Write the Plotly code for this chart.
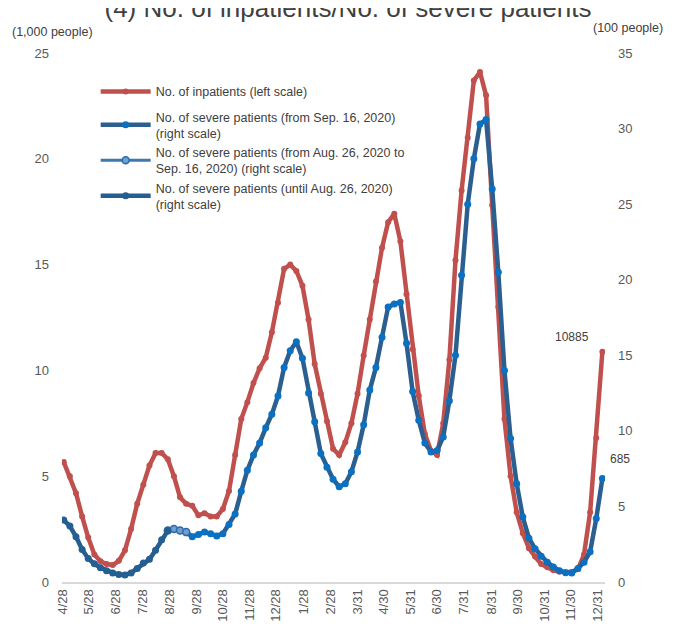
import pandas as pd
import plotly.graph_objects as go

# Weekly data points (Wednesdays), 2020-04-29 .. 2022-01-05
WEEK_START = "2020-04-29"
N_WEEKS = 89

# No. of inpatients, 1,000 people (left scale)
INPATIENTS = [
    5.67, 5.0, 4.2, 3.1, 2.1, 1.3, 0.98, 0.85, 0.8, 1.0,
    1.5, 2.5, 3.7, 4.6, 5.5, 6.1, 6.1, 5.8, 5.0, 4.0,
    3.7, 3.6, 3.15, 3.25, 3.1, 3.1, 3.45, 4.3, 6.0, 7.7,
    8.5, 9.4, 10.1, 10.6, 11.8, 13.2, 14.8, 15.0, 14.7, 14.0,
    12.4, 10.3, 8.9, 7.6, 6.3, 6.0, 6.6, 7.5, 8.9, 10.7,
    12.4, 14.2, 15.8, 17.0, 17.4, 16.1, 13.6, 11.0, 8.8, 7.0,
    6.2, 6.0, 7.5, 10.5, 15.2, 18.5, 21.0, 23.7, 24.1, 23.0,
    17.8, 13.0, 7.7, 5.0, 3.3, 2.3, 1.6, 1.2, 0.85, 0.7,
    0.55, 0.48, 0.45, 0.47, 0.6, 1.3, 3.3, 6.8, 10.885,
]

# No. of severe patients, 100 people (right scale), split by definition period
SEVERE_UNTIL_AUG26 = [
    4.1, 3.7, 3.0, 2.15, 1.55, 1.2, 0.95, 0.75, 0.6, 0.5,
    0.47, 0.6, 0.9, 1.25, 1.5, 2.1, 2.8, 3.4,
]
SEVERE_AUG26_SEP16 = [3.4, 3.5, 3.4, 3.3]
SEVERE_FROM_SEP16 = [
    3.3, 3.0, 3.15, 3.3, 3.2, 3.05, 3.2, 3.8, 4.5, 6.0,
    7.4, 8.4, 9.2, 10.2, 11.1, 12.3, 14.2, 15.3, 15.9, 14.8,
    12.5, 10.6, 8.5, 7.6, 6.8, 6.3, 6.5, 7.3, 8.6, 10.4,
    12.7, 14.2, 16.2, 18.2, 18.4, 18.5, 15.8, 12.6, 10.7, 9.2,
    8.6, 8.7, 9.6, 12.0, 15.0, 20.3, 25.0, 28.0, 30.3, 30.6,
    26.0, 20.5, 14.0, 9.5, 6.5, 4.3, 2.9, 2.2, 1.7, 1.3,
    1.0, 0.75, 0.62, 0.6, 0.9, 1.3, 2.0, 4.2, 6.85,
]

TICK_DATES = [
    "2020-04-28", "2020-05-28", "2020-06-28", "2020-07-28", "2020-08-28",
    "2020-09-28", "2020-10-28", "2020-11-28", "2020-12-28", "2021-01-28",
    "2021-02-28", "2021-03-31", "2021-04-30", "2021-05-31", "2021-06-30",
    "2021-07-31", "2021-08-31", "2021-09-30", "2021-10-31", "2021-11-30",
    "2021-12-31",
]
TICK_LABELS = [
    "4/28", "5/28", "6/28", "7/28", "8/28", "9/28", "10/28", "11/28", "12/28",
    "1/28", "2/28", "3/31", "4/30", "5/31", "6/30", "7/31", "8/31", "9/30",
    "10/31", "11/30", "12/31",
]

RED = "#C0504D"
BLUE_LINE = "#2A5F8F"
BLUE_MARK = "#0A70C2"
TEXT = "#404040"
TICK = "#595959"
FONT = "Liberation Sans"

dates = pd.date_range(WEEK_START, periods=N_WEEKS, freq="7D")
n1 = len(SEVERE_UNTIL_AUG26)
n2 = len(SEVERE_AUG26_SEP16)
d_until = dates[:n1]
d_mid = dates[n1 - 1:n1 - 1 + n2]
d_from = dates[n1 + n2 - 2:]

fig = go.Figure()

fig.add_trace(go.Scatter(
    x=dates, y=INPATIENTS, name="No. of inpatients (left scale)",
    mode="lines+markers", line=dict(color=RED, width=4.5),
    marker=dict(color=RED, size=6), yaxis="y", legendgroup="left",
))
fig.add_trace(go.Scatter(
    x=d_from, y=SEVERE_FROM_SEP16,
    name="No. of severe patients (from Sep. 16, 2020)<br>(right scale)",
    mode="lines+markers", line=dict(color=BLUE_LINE, width=4.5),
    marker=dict(color=BLUE_MARK, size=7), yaxis="y2", legendgroup="right",
))
fig.add_trace(go.Scatter(
    x=d_mid, y=SEVERE_AUG26_SEP16,
    name="No. of severe patients (from Aug. 26, 2020 to<br>Sep. 16, 2020) (right scale)",
    mode="lines+markers", line=dict(color="#3F78B0", width=3),
    marker=dict(color="#6E9FD3", size=7, line=dict(color="#2F6AA5", width=1.5)),
    yaxis="y2", legendgroup="right",
))
fig.add_trace(go.Scatter(
    x=d_until, y=SEVERE_UNTIL_AUG26,
    name="No. of severe patients (until Aug. 26, 2020)<br>(right scale)",
    mode="lines+markers", line=dict(color="#255E91", width=4.5),
    marker=dict(color="#255E91", size=7), yaxis="y2", legendgroup="right",
))

# last-value labels
fig.add_annotation(x=dates[-1], y=INPATIENTS[-1], yref="y", text="10885",
                   showarrow=False, xshift=-30, yshift=15,
                   font=dict(family=FONT, size=12, color=TEXT))
fig.add_annotation(x=dates[-1], y=SEVERE_FROM_SEP16[-1], yref="y2", text="685",
                   showarrow=False, xshift=18, yshift=19,
                   font=dict(family=FONT, size=12, color=TEXT))

# unit labels
fig.add_annotation(xref="paper", yref="paper", x=-0.096, y=1.04, xanchor="left",
                   yanchor="middle", text="(1,000 people)", showarrow=False,
                   font=dict(family=FONT, size=12.5, color=TEXT))
fig.add_annotation(xref="paper", yref="paper", x=0.974, y=1.047, xanchor="left",
                   yanchor="middle", text="(100 people)", showarrow=False,
                   font=dict(family=FONT, size=12.5, color=TEXT))

# page body has an 8px offset, margins are shifted to compensate
fig.update_layout(
    width=680, height=630,
    paper_bgcolor="white", plot_bgcolor="white",
    margin=dict(l=54, r=83, t=45, b=56),
    font=dict(family=FONT, color=TEXT),
    title=dict(text="(4) No. of inpatients/No. of severe patients",
               x=0.5, xanchor="center", y=1.0, yanchor="middle", yref="container",
               font=dict(family=FONT, size=26, color=TEXT)),
    showlegend=True,
    legend=dict(x=0.062, y=0.955, xanchor="left", yanchor="top", valign="middle",
                bgcolor="rgba(0,0,0,0)", font=dict(family=FONT, size=12.5, color=TEXT),
                itemwidth=50, tracegroupgap=6),
    xaxis=dict(
        type="date", range=["2020-04-27", "2022-01-08"],
        tickvals=TICK_DATES, ticktext=TICK_LABELS, tickangle=-90,
        tickfont=dict(family=FONT, size=13, color=TICK),
        showgrid=False, zeroline=False, showline=True,
        linecolor="#D9D9D9", linewidth=2, ticks="", automargin=False,
    ),
    yaxis=dict(
        range=[0, 25], dtick=5, showgrid=False, zeroline=False,
        tickfont=dict(family=FONT, size=13, color=TICK),
        ticklabelstandoff=12, automargin=False,
    ),
    yaxis2=dict(
        range=[0, 35], dtick=5, overlaying="y", side="right",
        showgrid=False, zeroline=False,
        tickfont=dict(family=FONT, size=13, color=TICK),
        ticklabelstandoff=12, automargin=False,
    ),
)

fig.write_html("out.html")
